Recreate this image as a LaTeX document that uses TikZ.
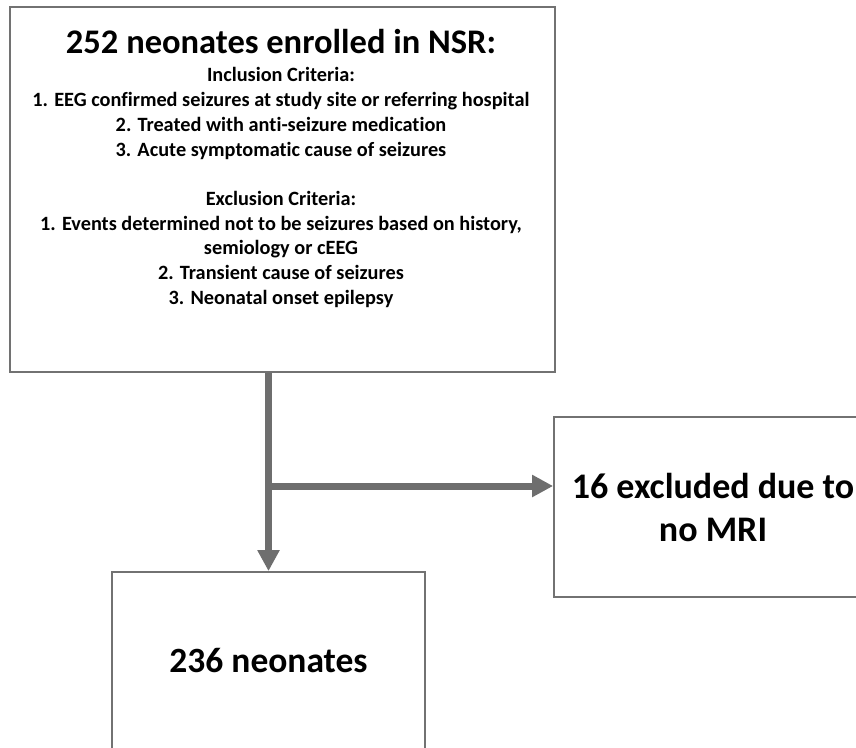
\documentclass[tikz,border=0pt]{standalone}
\usepackage{fontspec}
\setmainfont{Carlito}[Ligatures=NoCommon]
\usetikzlibrary{arrows.meta}
\definecolor{boxgray}{HTML}{727272}
\definecolor{arrowgray}{HTML}{6E6E6E}
\tikzset{
  box/.style={draw=boxgray, line width=1.8pt, fill=white, inner sep=0pt},
  titletext/.style={font=\fontsize{34.5}{42}\selectfont\bfseries},
  bigtext/.style={font=\fontsize{36}{43}\selectfont\bfseries},
  smalltext/.style={font=\fontsize{20.3}{24.7}\selectfont\bfseries},
  flowarrow/.style={draw=arrowgray, line width=7pt,
    -{Triangle[length=21pt,width=21pt]}, color=arrowgray},
}
\begin{document}
\begin{tikzpicture}[x=1pt,y=-1pt]
\clip (0,0) rectangle (856,747);
\fill[white] (0,0) rectangle (856,747);
% boxes
\node[box, minimum width=545pt, minimum height=365pt] (top) at (282.5,189.5) {};
\node[box, minimum width=318pt, minimum height=180pt, align=center, bigtext] (excl) at (713,507) {16 excluded due to\\no MRI};
\node[box, minimum width=313pt, minimum height=178pt, font=\fontsize{35.5}{43}\selectfont\bfseries] (final) at (268.5,661) {236 neonates};
% text of top box
\node[anchor=base, inner sep=0pt, titletext] (title) at (281,53) {252 neonates enrolled in NSR:};
\node[anchor=north, inner sep=0pt, align=center, smalltext] (crit) at (281,67.5) {Inclusion Criteria:\\
1. EEG confirmed seizures at study site or referring hospital\\
2. Treated with anti-seizure medication\\
3. Acute symptomatic cause of seizures\\[24.7pt]
Exclusion Criteria:\\
1. Events determined not to be seizures based on history,\\
semiology or cEEG\\
2. Transient cause of seizures\\
3. Neonatal onset epilepsy};
% connectors
\coordinate (branch) at (268,486);
\draw[flowarrow] (final.north |- top.south) -- (final.north);
\draw[flowarrow] (branch) -- (branch -| excl.west);
\end{tikzpicture}
\end{document}
